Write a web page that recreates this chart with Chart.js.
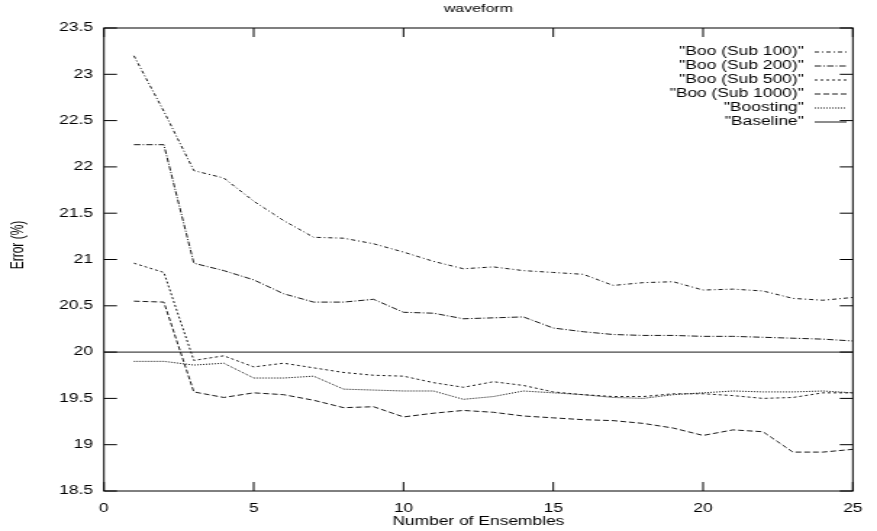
<!DOCTYPE html>
<html>
<head>
<meta charset="utf-8">
<title>waveform</title>
<script src="https://cdn.jsdelivr.net/npm/chart.js@4/dist/chart.umd.min.js"></script>
<style>
  html, body { margin: 0; padding: 0; background: #fff; }
  /* the canvas is drawn narrow and stretched sideways, like the original plot */
  #errChart { display: block; width: 877px; height: 531px; }
</style>
</head>
<body>
<canvas id="errChart" width="605" height="531" style="width:877px;height:531px"></canvas>
<script>
// Number of ensembles on the x axis
const ensembles = [1, 2, 3, 4, 5, 6, 7, 8, 9, 10, 11, 12, 13, 14, 15, 16, 17, 18, 19, 20, 21, 22, 23, 24, 25];

// Error (%) for each method
const booSub100 = [23.2, 22.6, 21.96, 21.88, 21.63, 21.42, 21.24, 21.23, 21.17, 21.08, 20.98, 20.9, 20.92,
  20.88, 20.86, 20.84, 20.72, 20.75, 20.76, 20.67, 20.68, 20.66, 20.58, 20.56, 20.59];
const booSub200 = [22.24, 22.24, 20.96, 20.88, 20.78, 20.63, 20.54, 20.54, 20.57, 20.43, 20.42, 20.36, 20.37,
  20.38, 20.26, 20.22, 20.19, 20.18, 20.18, 20.17, 20.17, 20.16, 20.15, 20.14, 20.12];
const booSub500 = [20.96, 20.86, 19.91, 19.96, 19.84, 19.88, 19.83, 19.78, 19.75, 19.74, 19.67, 19.62, 19.68,
  19.64, 19.57, 19.54, 19.52, 19.52, 19.55, 19.55, 19.53, 19.5, 19.51, 19.56, 19.56];
const booSub1000 = [20.55, 20.54, 19.57, 19.51, 19.56, 19.54, 19.48, 19.4, 19.41, 19.3, 19.34, 19.37, 19.35,
  19.31, 19.29, 19.27, 19.26, 19.23, 19.18, 19.1, 19.16, 19.14, 18.92, 18.92, 18.95];
const boosting = [19.9, 19.9, 19.86, 19.88, 19.72, 19.72, 19.74, 19.6, 19.59, 19.58, 19.58, 19.49, 19.52,
  19.58, 19.56, 19.54, 19.51, 19.5, 19.54, 19.56, 19.58, 19.57, 19.57, 19.58, 19.56];

// Baseline runs across the whole x range
const baselineX = [0, 25];
const baselineY = [20, 20];

// Tick values
const xTicks = [0, 5, 10, 15, 20, 25];
const yTicks = [18.5, 19, 19.5, 20, 20.5, 21, 21.5, 22, 22.5, 23, 23.5];

const FONT = 'Arial, "Liberation Sans", Helvetica, sans-serif';
const INK = '#1a1a1a';

function toPoints(xs, ys) {
  return xs.map((x, i) => ({ x: x, y: ys[i] }));
}

function lineSet(label, xs, ys, dash) {
  return {
    label: label,
    data: toPoints(xs, ys),
    borderColor: INK,
    borderWidth: 1,
    borderDash: dash,
    pointRadius: 0,
    fill: false,
    tension: 0,
  };
}

// Frame, inward tick marks, titles and legend (gnuplot look)
const plotDecor = {
  id: 'plotDecor',
  afterDraw(chart) {
    const ctx = chart.ctx;
    const area = chart.chartArea;
    const xs = chart.scales.x;
    const ys = chart.scales.y;
    const tick = 9;

    ctx.save();
    ctx.strokeStyle = '#000';
    ctx.lineWidth = 1;
    ctx.setLineDash([]);
    ctx.strokeRect(area.left, area.top, area.right - area.left, area.bottom - area.top);

    ctx.beginPath();
    yTicks.forEach(v => {
      const py = ys.getPixelForValue(v);
      ctx.moveTo(area.left, py);
      ctx.lineTo(area.left + tick, py);
      ctx.moveTo(area.right, py);
      ctx.lineTo(area.right - tick, py);
    });
    xTicks.forEach(v => {
      const px = xs.getPixelForValue(v);
      ctx.moveTo(px, area.bottom);
      ctx.lineTo(px, area.bottom - tick);
      ctx.moveTo(px, area.top);
      ctx.lineTo(px, area.top + tick);
    });
    ctx.stroke();

    // titles
    ctx.fillStyle = '#000';
    ctx.textAlign = 'center';
    ctx.textBaseline = 'middle';
    ctx.font = '11px ' + FONT;
    ctx.fillText('waveform', (area.left + area.right) / 2, 9);
    ctx.font = '12px ' + FONT;
    ctx.fillText('Number of Ensembles', (area.left + area.right) / 2, 522);

    ctx.save();
    ctx.translate(12.5, 245);
    ctx.rotate(-Math.PI / 2);
    ctx.fillText('Error (%)', 0, 0);
    ctx.restore();

    // legend, top right inside the plot
    const textRight = 554.5;
    const sampleLeft = 562;
    const sampleRight = 584;
    let rowY = 52;
    chart.data.datasets.forEach(ds => {
      ctx.textAlign = 'right';
      ctx.fillStyle = '#000';
      ctx.fillText('"' + ds.label + '"', textRight, rowY);
      ctx.strokeStyle = ds.borderColor;
      ctx.setLineDash(ds.borderDash || []);
      ctx.beginPath();
      ctx.moveTo(sampleLeft, rowY);
      ctx.lineTo(sampleRight, rowY);
      ctx.stroke();
      rowY += 14;
    });
    ctx.restore();
  }
};

const config = {
  type: 'line',
  data: {
    datasets: [
      lineSet('Boo (Sub 100)', ensembles, booSub100, [3, 2, 1, 2]),
      lineSet('Boo (Sub 200)', ensembles, booSub200, [4.5, 1.5, 1, 1.5]),
      lineSet('Boo (Sub 500)', ensembles, booSub500, [2, 2]),
      lineSet('Boo (Sub 1000)', ensembles, booSub1000, [4, 2]),
      lineSet('Boosting', ensembles, boosting, [1, 1]),
      lineSet('Baseline', baselineX, baselineY, []),
    ],
  },
  options: {
    responsive: false,
    animation: false,
    devicePixelRatio: 1,
    layout: {
      padding: { top: 28, right: 9.1, left: 0, bottom: 0 },
    },
    plugins: {
      legend: { display: false },
      title: { display: false },
      tooltip: { enabled: false },
    },
    scales: {
      x: {
        type: 'linear',
        min: 0,
        max: 25,
        afterBuildTicks: scale => { scale.ticks = xTicks.map(v => ({ value: v })); },
        afterFit: scale => { scale.height = 40; },
        grid: { drawOnChartArea: false, drawTicks: false },
        border: { display: false },
        ticks: {
          padding: 10,
          color: '#000',
          font: { family: FONT, size: 12 },
          maxRotation: 0,
          autoSkip: false,
          callback: v => String(v),
        },
      },
      y: {
        type: 'linear',
        min: 18.5,
        max: 23.5,
        afterBuildTicks: scale => { scale.ticks = yTicks.map(v => ({ value: v })); },
        afterFit: scale => { scale.width = 71.7; },
        grid: { drawOnChartArea: false, drawTicks: false },
        border: { display: false },
        ticks: {
          padding: 7.5,
          color: '#000',
          font: { family: FONT, size: 12 },
          autoSkip: false,
          callback: v => String(v),
        },
      },
    },
  },
  plugins: [plotDecor],
};

const ctx = document.getElementById('errChart').getContext('2d');
const errChart = new Chart(ctx, config);
</script>
</body>
</html>
